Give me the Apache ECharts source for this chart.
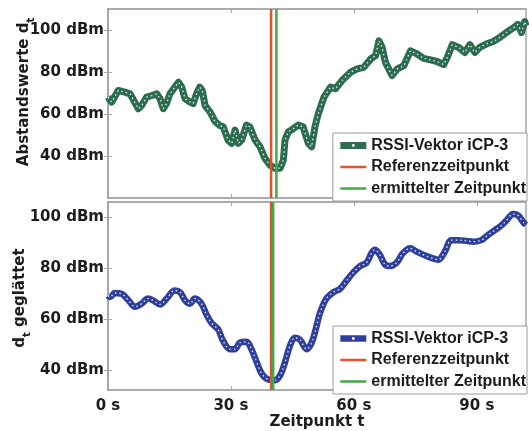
<!DOCTYPE html>
<html>
<head>
<meta charset="utf-8">
<script src="https://cdn.jsdelivr.net/npm/echarts@6/dist/echarts.min.js"></script>
<style>html,body{margin:0;padding:0;background:#fff}#c{width:529px;height:431px}</style>
</head>
<body>
<div id="c"></div>
<script>
// ---- data ----
const topTimes = [0,0.9,2.5,4.1,5.4,7.4,8.2,9.4,10.7,11.9,12.7,13.5,14.3,15.1,16.3,17.2,18,18.8,20,20.8,21.6,22.4,23,23.7,24.9,26.1,27.3,28.1,29.3,30.2,31,31.8,32.6,33.8,34.6,35.9,37.1,38.3,39.5,40.7,42,42.8,43.2,44,45.2,46.4,47.6,48.9,49.7,50.5,51.3,52.7,54.3,55.5,57.1,59.2,60.8,62.4,64.1,65.3,66.1,66.9,67.7,69.3,70.6,72.2,73.8,75.4,77,78.7,80.3,81.9,82.8,84,85.6,87.1,88.3,89.5,90.7,92.3,94,95.6,97.2,98.9,100,100.9,101.7,102];
const topValues = [68,65.7,71.2,70.4,69.6,62.5,64,68,68.8,69.6,67.3,62.5,65,69.6,72.8,75.1,72.8,67.3,65.7,65,69.6,72.8,71.2,64,61,56.5,54.5,53.9,47.6,46,52.3,46,47.6,54.7,53.9,47.6,44.4,38.9,35.7,34.2,34.2,38.1,47.6,51.5,53,54.7,53.9,46,44.4,53.9,60,68,72.8,72,75.9,79.9,81.5,82.2,86.2,87.8,94.8,91.7,84.6,78.3,81.5,83,90.1,88.6,86.5,85.8,85,83.5,87,93,91.7,89.3,93,89.3,91.7,93.3,94.5,96.4,98.8,101,102.7,98.8,104,102];
const botTimes = [0,0.5,1.7,3.3,5,6.6,8.2,9.8,11,12.7,14.3,16.3,17.6,18.8,20,21.2,22.8,24.1,25.3,26.9,28.1,29.8,31,32.2,33.8,35,36.3,37.5,39.1,40.7,42,43.2,44.4,45.6,46.8,48.5,49.7,50.7,51.7,53.3,55,56.6,58.2,59.8,61.5,63.1,64.3,65.1,66.3,67.6,68.8,70.4,72,73.7,75.3,76.9,78.9,80.6,82.2,83.8,85.4,87.5,89.1,91.1,92.7,94.4,96,97.2,98.9,100.1,101.3,102];
const botValues = [69.2,68.6,70.2,69.9,67.3,64.8,66,68,67.3,65.7,68,71.2,70.5,67.3,66,68,66,61.5,58.3,55.8,51.3,48.1,48.1,50.7,51,48.1,43,38.5,36.2,35.9,37.8,43,49.4,52.6,51.9,48.1,50.7,56,62.2,68,70.5,71.8,75,78.2,80.8,82.1,85.9,87.2,85.3,81.4,80.8,82.1,85.9,87.8,86.5,85.3,84,83.3,86.5,91,91,90.7,90.4,91,93,94.9,96.8,98.7,101.3,100.7,98.1,97];
const refTime = 39.8;          // Referenzzeitpunkt
const detTimeTop = 41.1;       // ermittelter Zeitpunkt (oben)
const detTimeBot = 40.3;       // ermittelter Zeitpunkt (unten)
const xTicks = [0, 30, 60, 90];
const yTicksTop = [40, 60, 80, 100];
const yTicksBot = [40, 60, 80, 100];
const seriesNames = ['RSSI-Vektor iCP-3', 'Referenzzeitpunkt', 'ermittelter Zeitpunkt'];

const topRange = [20, 110], botRange = [32, 106], xRange = [0, 102];
const GREEN = '#2c6c4f', BLUE = '#2f3f9c', RED = '#e0532c', LGREEN = '#3fab48';
const AX = '#a6a6a6', TXT = '#1c1c1c';
const FONT = 'DejaVu Sans';

const chart = echarts.init(document.getElementById('c'), null, {renderer: 'canvas'});
const pair = (ts, vs) => ts.map((t, i) => [t, vs[i]]);

function xAx(grid, pos, labels, extra) {
  return Object.assign({
    type: 'value', gridIndex: grid, position: pos, min: xRange[0], max: xRange[1], interval: 30,
    axisLine: {show: true, lineStyle: {color: AX, width: 1.5}},
    axisTick: {show: true, inside: true, length: 4, lineStyle: {color: AX}, customValues: xTicks},
    splitLine: {show: false},
    axisLabel: {show: labels, customValues: xTicks, formatter: v => v + ' s', color: TXT, fontFamily: FONT, fontWeight: 'bold', fontSize: 15, margin: 9}
  }, extra || {});
}
function yAx(grid, pos, labels, range, ticks) {
  return {
    type: 'value', gridIndex: grid, position: pos, min: range[0], max: range[1],
    axisLine: {show: true, lineStyle: {color: AX, width: 1.5}},
    axisTick: {show: true, inside: true, length: 4, lineStyle: {color: AX}, customValues: ticks},
    splitLine: {show: false},
    axisLabel: {show: labels, customValues: ticks, formatter: v => v + ' dBm', color: TXT, fontFamily: FONT, fontWeight: 'bold', fontSize: 15, margin: 4}
  };
}
const lineIcon = 'path://M0,0H26V2.5H0Z';
function legend(top, prefix) {
  return {
    orient: 'vertical', right: 2, top: top, selectedMode: false,
    backgroundColor: '#fff', borderColor: '#9a9a9a', borderWidth: 1, borderRadius: 0,
    padding: [3, 1, 3, 4], itemGap: 2.5, itemWidth: 26, itemHeight: 3.5,
    lineStyle: {width: 'inherit'},
    textStyle: {fontFamily: 'Liberation Sans', fontWeight: 'bold', fontSize: 16, color: TXT, lineHeight: 19},
    formatter: n => n.replace(/^b:/, ''),
    data: [
      {name: prefix + seriesNames[0]},
      {name: prefix + seriesNames[1], icon: lineIcon},
      {name: prefix + seriesNames[2], icon: lineIcon}
    ]
  };
}
function rssi(name, data, color, xi, yi, smooth, width) {
  return [
    {name: name, type: 'line', data: data, xAxisIndex: xi, yAxisIndex: yi, symbol: 'circle', showSymbol: false, smooth: smooth,
     itemStyle: {color: '#ffffff'}, lineStyle: {color: color, width: width, join: 'round'}, z: 2, animation: false, silent: true},
    {name: name + '_w', type: 'line', data: data, xAxisIndex: xi, yAxisIndex: yi, symbol: 'none', smooth: smooth,
     lineStyle: {color: '#ffffff', width: 1.3, type: [1.5, 3], opacity: 0.9}, z: 3, animation: false, silent: true}
  ];
}
function vline(name, t, range, color, xi, yi, z) {
  return {name: name, type: 'line', data: [[t, range[0]], [t, range[1]]], xAxisIndex: xi, yAxisIndex: yi,
    symbol: 'none', itemStyle: {color: color}, lineStyle: {color: color, width: 2.5}, z: z, animation: false, silent: true};
}

chart.setOption({
  backgroundColor: '#fff',
  animation: false,
  grid: [
    {left: 108, top: 9, width: 418, height: 189, show: true, borderColor: AX, borderWidth: 1.5, backgroundColor: '#fff'},
    {left: 108, top: 202, width: 418, height: 191, show: true, borderColor: AX, borderWidth: 1.5, backgroundColor: '#fff'}
  ],
  xAxis: [
    xAx(0, 'bottom', false),
    xAx(0, 'top', false),
    xAx(1, 'bottom', true, {name: 'Zeitpunkt t', nameLocation: 'middle', nameGap: 24,
      nameTextStyle: {color: TXT, fontFamily: FONT, fontWeight: 'bold', fontSize: 15}}),
    xAx(1, 'top', false)
  ],
  yAxis: [
    yAx(0, 'left', true, topRange, yTicksTop),
    yAx(0, 'right', false, topRange, yTicksTop),
    yAx(1, 'left', true, botRange, yTicksBot),
    yAx(1, 'right', false, botRange, yTicksBot)
  ],
  legend: [legend(133, ''), legend(326, 'b:')],
  series: [].concat(
    rssi(seriesNames[0], pair(topTimes, topValues), GREEN, 0, 0, false, 7),
    [vline(seriesNames[1], refTime, topRange, RED, 0, 0, 4),
     vline(seriesNames[2], detTimeTop, topRange, LGREEN, 0, 0, 5)],
    rssi('b:' + seriesNames[0], pair(botTimes, botValues), BLUE, 2, 2, 0.35, 6.5),
    [vline('b:' + seriesNames[1], refTime, botRange, RED, 2, 2, 4),
     vline('b:' + seriesNames[2], detTimeBot, botRange, LGREEN, 2, 2, 5)]
  ),
  graphic: [
    {type: 'text', x: 24, y: 92, rotation: Math.PI / 2, z: 10,
     style: {text: 'Abstandswerte d{s|t}', align: 'center', verticalAlign: 'middle',
       font: 'bold 15px "DejaVu Sans"', fill: TXT,
       rich: {s: {fontSize: 10, fontWeight: 'bold', fontFamily: FONT, fill: TXT, verticalAlign: 'bottom', lineHeight: 24}}}},
    {type: 'text', x: 20, y: 298, rotation: Math.PI / 2, z: 10,
     style: {text: 'd{s|t} geglättet', align: 'center', verticalAlign: 'middle',
       font: 'bold 15px "DejaVu Sans"', fill: TXT,
       rich: {s: {fontSize: 10, fontWeight: 'bold', fontFamily: FONT, fill: TXT, verticalAlign: 'bottom', lineHeight: 24}}}}
  ]
});
</script>
</body>
</html>
